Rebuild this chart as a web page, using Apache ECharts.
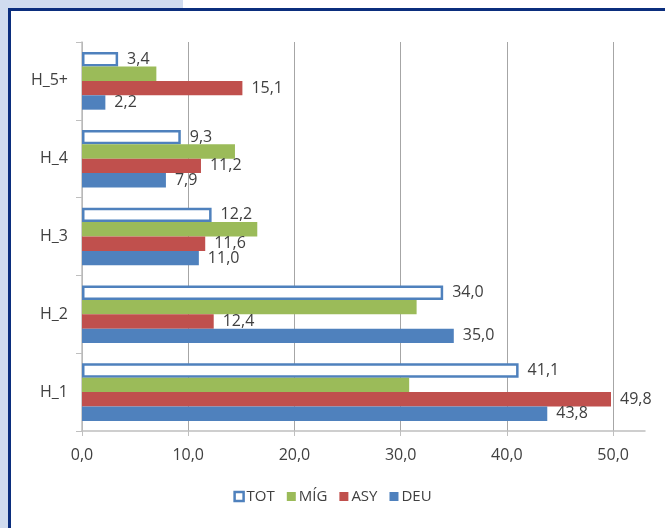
<!DOCTYPE html>
<html>
<head>
<meta charset="utf-8">
<script src="https://cdn.jsdelivr.net/npm/echarts@6/dist/echarts.min.js"></script>
<style>
html,body{margin:0;padding:0;background:#fff;}
#chart{width:665px;height:528px;}
</style>
</head>
<body>
<div id="chart"></div>
<script>
var categories = ['H_1', 'H_2', 'H_3', 'H_4', 'H_5+'];
var legendOrder = ['TOT', 'MÍG', 'ASY', 'DEU'];
var totValues = [41.1, 34.0, 12.2, 9.3, 3.4];
var migValues = [30.8, 31.5, 16.5, 14.4, 7.0];
var asyValues = [49.8, 12.4, 11.6, 11.2, 15.1];
var deuValues = [43.8, 35.0, 11.0, 7.9, 2.2];
var xTickLabels = ['0,0', '10,0', '20,0', '30,0', '40,0', '50,0'];

var fontFam = '"Open Sans", "Noto Sans", sans-serif';
function fmt(v) { return v.toFixed(1).replace('.', ','); }

var chart = echarts.init(document.getElementById('chart'), null, {renderer: 'canvas'});

var labelCfg = {
  show: true,
  position: 'right',
  distance: 9,
  color: '#404040',
  fontSize: 16,
  fontFamily: fontFam,
  formatter: function (p) { return fmt(p.value); }
};

chart.setOption({
  animation: false,
  backgroundColor: 'transparent',
  graphic: [
    {type: 'rect', shape: {x: 0, y: 0, width: 183, height: 9}, style: {fill: '#d0dcef'}, z: -10},
    {type: 'rect', shape: {x: 0, y: 0, width: 8, height: 528}, style: {fill: '#d0dcef'}, z: -10},
    {type: 'rect', shape: {x: 8, y: 8, width: 657, height: 3}, style: {fill: '#0b2e7d'}, z: -9},
    {type: 'rect', shape: {x: 8, y: 8, width: 3, height: 520}, style: {fill: '#0b2e7d'}, z: -9}
  ],
  legend: {
    data: legendOrder.map(function (n) {
      if (n === 'TOT') {
        return {name: n, itemStyle: {color: '#fff', borderColor: '#4f81bd', borderWidth: 2.5}};
      }
      return {name: n};
    }),
    left: 'center',
    top: 484,
    itemWidth: 9,
    itemHeight: 9,
    itemGap: 12,
    icon: 'rect',
    textStyle: {color: '#404040', fontSize: 15, fontFamily: fontFam, padding: [0, 0, 0, -2]}
  },
  grid: {left: 82, right: 20, top: 42, bottom: 97, containLabel: false},
  xAxis: {
    type: 'value',
    min: 0,
    max: 53,
    interval: 10,
    axisLine: {show: true, lineStyle: {color: '#bfbfbf', width: 1.5}},
    axisTick: {show: true, inside: false, length: 5, lineStyle: {color: '#bfbfbf'}},
    splitLine: {show: true, showMaxLine: false, lineStyle: {color: '#a6a6a6', width: 1}},
    axisLabel: {
      color: '#404040', fontSize: 16, fontFamily: fontFam, margin: 16,
      showMaxLabel: false,
      formatter: function (v) {
        var i = Math.round(v / 10);
        return (Math.abs(v - i * 10) < 1e-6 && xTickLabels[i] !== undefined) ? xTickLabels[i] : '';
      }
    }
  },
  yAxis: {
    type: 'category',
    data: categories,
    axisLine: {show: true, lineStyle: {color: '#bfbfbf', width: 1.5}},
    axisTick: {show: true, inside: false, length: 6, lineStyle: {color: '#bfbfbf'}},
    axisLabel: {color: '#404040', fontSize: 16, fontFamily: fontFam, margin: 14}
  },
  series: [
    {name: 'TOT', type: 'bar', data: totValues, barGap: '0%', barCategoryGap: '26%',
     itemStyle: {color: '#ffffff', borderColor: '#4f81bd', borderWidth: 2.5}, label: labelCfg},
    {name: 'MÍG', type: 'bar', data: migValues, barGap: '0%', barCategoryGap: '26%',
     itemStyle: {color: '#9bbb59'}, label: {show: false}},
    {name: 'ASY', type: 'bar', data: asyValues, barGap: '0%', barCategoryGap: '26%',
     itemStyle: {color: '#c0504d'}, label: labelCfg},
    {name: 'DEU', type: 'bar', data: deuValues, barGap: '0%', barCategoryGap: '26%',
     itemStyle: {color: '#4f81bd'}, label: labelCfg}
  ]
});
</script>
</body>
</html>
